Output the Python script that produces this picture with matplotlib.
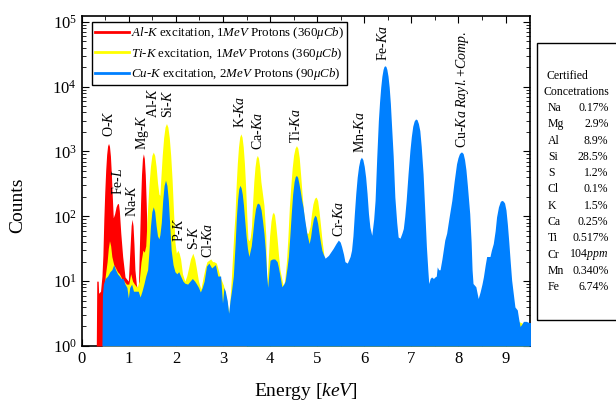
import matplotlib
matplotlib.use("Agg")
import matplotlib.pyplot as plt
from matplotlib.patches import Rectangle
from matplotlib.ticker import MultipleLocator, LogLocator, NullFormatter

plt.rcParams["font.family"] = ["Liberation Serif", "DejaVu Serif"]
plt.rcParams["mathtext.fontset"] = "custom"
plt.rcParams["mathtext.rm"] = "Liberation Serif"
plt.rcParams["mathtext.it"] = "Liberation Serif:italic"

# Al-K excitation, 1 MeV protons
al_e = [0.31, 0.32, 0.35, 0.36, 0.40, 0.43, 0.45, 0.47, 0.49, 0.51, 0.53, 0.55, 0.57, 0.59,
        0.61, 0.63, 0.65, 0.67, 0.70, 0.73, 0.755, 0.78, 0.80, 0.83, 0.87, 0.92, 0.99, 1.03,
        1.05, 1.07, 1.09, 1.11, 1.13, 1.16, 1.20, 1.23, 1.25, 1.27, 1.29, 1.31, 1.33, 1.35,
        1.37, 1.39, 1.41, 1.45, 1.60, 2.00, 2.50, 3.00, 3.50]
al_c = [1, 10, 10, 6.5, 7, 12, 25, 90, 240, 520, 900, 1220, 1330, 1200,
        850, 450, 200, 95, 110, 140, 155, 158, 120, 55, 24, 11.6, 10, 37,
        72, 90, 72, 37, 15, 9, 6.5, 45, 160, 440, 780, 920, 780, 440,
        160, 45, 12, 7, 6, 5, 4, 3, 1]

# Ti-K excitation, 1 MeV protons
ti_e = [0.44, 0.46, 0.50, 0.54, 0.565, 0.59, 0.615, 0.64, 0.68, 0.72, 0.76, 0.80, 0.85, 0.90,
        0.95, 1.00, 1.04, 1.08, 1.12, 1.18, 1.22, 1.26, 1.30, 1.33, 1.36, 1.40, 1.43, 1.46,
        1.49, 1.52, 1.55, 1.58, 1.61, 1.64, 1.66, 1.68, 1.71, 1.74, 1.77, 1.80, 1.83, 1.86,
        1.89, 1.92, 1.95, 1.98, 2.01, 2.04, 2.07, 2.10, 2.14, 2.19, 2.23, 2.27, 2.31, 2.36,
        2.40, 2.43, 2.48, 2.53, 2.58, 2.62, 2.66, 2.70, 2.74, 2.78, 2.81, 2.86, 2.90, 2.94,
        3.01, 3.08, 3.13, 3.18, 3.23, 3.255, 3.28, 3.305, 3.33, 3.355, 3.38, 3.405, 3.43, 3.455,
        3.48, 3.505, 3.53, 3.56, 3.58, 3.605, 3.63, 3.655, 3.68, 3.705, 3.73, 3.755, 3.78, 3.805,
        3.83, 3.87, 3.91, 3.93, 3.96, 3.99, 4.02, 4.045, 4.07, 4.095, 4.12, 4.15, 4.18, 4.21,
        4.26, 4.29, 4.32, 4.35, 4.38, 4.41, 4.44, 4.47, 4.50, 4.53, 4.56, 4.59, 4.62, 4.65,
        4.68, 4.71, 4.74, 4.78, 4.81, 4.85, 4.88, 4.91, 4.945, 4.98, 5.01, 5.04, 5.07, 5.10,
        5.13, 5.16, 5.20, 5.40, 6.00, 7.00, 8.00, 9.00, 9.50]
ti_c = [1, 5, 12, 20, 32, 42, 35, 24, 18, 16, 14, 13, 11, 10,
        9, 9, 13, 10, 9, 8, 10, 20, 30, 28, 35, 133, 316, 590,
        870, 980, 870, 590, 330, 220, 210, 380, 870, 1630, 2380, 2700, 2380, 1630,
        870, 363, 118, 40, 27, 30, 27, 22, 13, 10, 12, 16, 22, 27,
        22, 16.6, 10, 7.6, 11.6, 16, 20, 21, 22, 20, 20, 19, 15, 11.6,
        8.7, 5.1, 3.2, 12, 55, 105, 300, 665, 1180, 1670, 1870, 1670, 1180, 665,
        296, 105, 45, 42, 48, 70, 166, 344, 575, 785, 870, 785, 575, 344,
        250, 150, 50, 8, 21, 50, 85, 108, 116, 105, 75, 45, 25, 15,
        9.8, 8, 12, 21, 50, 140, 290, 560, 880, 1120, 1230, 1120, 800, 430,
        220, 120, 80, 55, 55, 70, 110, 155, 190, 198, 175, 120, 75, 45,
        30, 20, 12, 10, 8, 5, 4, 3, 2]

# Cu-K excitation, 2 MeV protons
cu_e = [0.40, 0.43, 0.44, 0.46, 0.50, 0.55, 0.60, 0.64, 0.68, 0.72, 0.76, 0.80, 0.84, 0.88,
        0.92, 0.96, 0.99, 1.02, 1.06, 1.10, 1.15, 1.20, 1.24, 1.28, 1.32, 1.36, 1.40, 1.43,
        1.46, 1.49, 1.52, 1.55, 1.58, 1.61, 1.64, 1.66, 1.69, 1.72, 1.75, 1.78, 1.81, 1.84,
        1.87, 1.90, 1.94, 1.98, 2.02, 2.06, 2.10, 2.15, 2.19, 2.25, 2.30, 2.35, 2.40, 2.44,
        2.48, 2.52, 2.56, 2.60, 2.65, 2.70, 2.76, 2.80, 2.84, 2.89, 2.95, 2.99, 3.02, 3.05,
        3.09, 3.12, 3.15, 3.18, 3.22, 3.26, 3.285, 3.31, 3.335, 3.36, 3.385, 3.41, 3.435, 3.46,
        3.49, 3.52, 3.55, 3.60, 3.63, 3.66, 3.69, 3.72, 3.75, 3.78, 3.81, 3.84, 3.87, 3.90,
        3.93, 3.95, 3.98, 4.00, 4.05, 4.10, 4.15, 4.18, 4.22, 4.25, 4.29, 4.32, 4.36, 4.39,
        4.42, 4.45, 4.48, 4.51, 4.535, 4.56, 4.585, 4.61, 4.64, 4.67, 4.70, 4.74, 4.78, 4.83,
        4.86, 4.89, 4.92, 4.95, 4.98, 5.01, 5.04, 5.07, 5.10, 5.13, 5.17, 5.24, 5.30, 5.34,
        5.40, 5.45, 5.49, 5.52, 5.56, 5.59, 5.64, 5.70, 5.73, 5.76, 5.79, 5.82, 5.85, 5.88,
        5.91, 5.94, 5.97, 6.00, 6.03, 6.06, 6.09, 6.12, 6.16, 6.20, 6.23, 6.265, 6.30, 6.325,
        6.35, 6.375, 6.40, 6.42, 6.44, 6.46, 6.48, 6.505, 6.53, 6.555, 6.58, 6.615, 6.65, 6.69,
        6.72, 6.76, 6.80, 6.83, 6.86, 6.89, 6.93, 6.97, 7.00, 7.03, 7.06, 7.09, 7.12, 7.15,
        7.18, 7.21, 7.25, 7.28, 7.32, 7.35, 7.37, 7.40, 7.43, 7.47, 7.50, 7.53, 7.55, 7.58,
        7.61, 7.65, 7.71, 7.75, 7.80, 7.86, 7.91, 7.96, 7.99, 8.02, 8.05, 8.07, 8.10, 8.13,
        8.16, 8.19, 8.24, 8.27, 8.29, 8.31, 8.37, 8.42, 8.46, 8.50, 8.53, 8.57, 8.60, 8.64,
        8.67, 8.70, 8.74, 8.78, 8.81, 8.85, 8.89, 8.92, 8.95, 8.98, 9.01, 9.04, 9.07, 9.10,
        9.13, 9.17, 9.20, 9.25, 9.28, 9.31, 9.35, 9.38, 9.44, 9.50, 9.53]
cu_c = [1, 1, 6, 9, 11, 12, 14, 15, 18, 15, 13, 12, 11, 11,
        9, 8, 5.5, 8, 9, 7, 7, 7, 5.7, 7, 9, 12, 15, 30,
        70, 118, 140, 118, 72, 50, 45, 52, 80, 176, 300, 360, 300, 176,
        72, 30, 18, 14, 13, 14, 12, 10, 9.3, 9, 10, 11, 10, 9,
        8, 6.8, 8, 10, 17, 19, 16, 17, 18, 12, 12, 4.6, 8, 7,
        5, 3.2, 5, 7, 12, 40, 97, 181, 265, 300, 275, 220, 150, 90,
        50, 32, 24, 35, 55, 90, 130, 155, 160, 150, 125, 85, 55, 30,
        12, 8, 15, 21, 22, 22, 20, 16, 11, 8.2, 9, 10, 16, 24,
        50, 110, 220, 340, 410, 427, 400, 330, 250, 180, 139, 85, 55, 38,
        48, 70, 92, 104, 98, 78, 55, 40, 30, 26, 22.6, 25, 29, 32,
        38, 43, 40, 34, 26, 20, 19, 24, 30, 50, 110, 225, 400, 590,
        750, 815, 750, 590, 400, 225, 110, 68, 51, 90, 176, 800, 3000, 5800,
        9800, 14500, 18500, 20500, 21000, 20500, 18500, 14500, 9800, 5500, 2500, 850, 198, 80,
        48, 46, 55, 65, 100, 176, 450, 1040, 1700, 2450, 2950, 3170, 3100, 2700,
        2100, 1200, 450, 150, 34, 15, 9.2, 11, 11.6, 11, 11.6, 12, 16.6, 15,
        15, 22, 43, 55, 95, 176, 350, 646, 800, 920, 975, 980, 930, 750,
        520, 300, 110, 40, 15, 9.2, 8.2, 5.4, 6.8, 9, 11.6, 18, 24, 24,
        24, 30, 38, 60, 98, 140, 170, 176, 172, 160, 125, 75, 40, 20,
        10.4, 6, 4, 3.6, 2.6, 2, 2.2, 2.4, 2.4, 2.3, 2.3]

peak_labels = ["O-$K$", "Fe-$L$", "Na-$K$", "Mg-$K$", "Al-$K$", "Si-$K$", "P-$K$", "S-$K$",
               "Cl-$Ka$", "K-$Ka$", "Ca-$Ka$", "Ti-$Ka$", "Cr-$Ka$", "Mn-$Ka$", "Fe-$Ka$",
               "Cu-$Ka$ $Rayl.$+$Comp.$"]
peak_e = [0.58, 0.77, 1.07, 1.29, 1.51, 1.83, 2.07, 2.38, 2.69, 3.36, 3.75, 4.55, 5.46,
          5.91, 6.40, 8.08]
peak_y = [1650, 210, 96, 1040, 3300, 3300, 40, 30, 23, 2340, 1040, 1330, 48, 960, 25000, 1150]

elements = ["Na", "Mg", "Al", "Si", "S", "Cl", "K", "Ca", "Ti", "Cr", "Mn", "Fe"]
conc = ["0.17%", "2.9%", "8.9%", "28.5%", "1.2%", "0.1%", "1.5%", "0.25%", "0.517%",
        "104$ppm$", "0.340%", "6.74%"]

W, H = 616, 403
fig = plt.figure(figsize=(W / 100, H / 100), dpi=100)
ax = fig.add_axes([81.7 / W, 1 - 346 / H, (530 - 81.7) / W, (346 - 16) / H])

ax.fill_between(al_e, al_c, 1, color="#ff0000", lw=0, zorder=3)
ax.fill_between(ti_e, ti_c, 1, color="#ffff00", lw=0, zorder=3)
ax.fill_between(cu_e, cu_c, 1, color="#0080ff", lw=0, zorder=3)

ax.set_yscale("log")
ax.set_xlim(0, 9.52)
ax.set_ylim(1, 1.23e5)
ax.xaxis.set_major_locator(MultipleLocator(1))
ax.xaxis.set_minor_locator(MultipleLocator(0.5))
ax.yaxis.set_major_locator(LogLocator(base=10, numticks=10))
ax.yaxis.set_minor_locator(LogLocator(base=10, subs=range(2, 10), numticks=20))
ax.yaxis.set_minor_formatter(NullFormatter())
ax.tick_params(which="both", direction="in", top=True, right=True, labelsize=12)
ax.tick_params(which="major", length=5, width=0.8)
ax.tick_params(which="minor", length=3, width=0.6)
for s in ax.spines.values():
    s.set_linewidth(1.2)

for lab, e, y in zip(peak_labels, peak_e, peak_y):
    ax.text(e, y, lab, rotation=90, ha="center", va="bottom", fontsize=10, zorder=4)

h1, = ax.plot([], [], color="#ff0000", lw=2)
h2, = ax.plot([], [], color="#ffff00", lw=2)
h3, = ax.plot([], [], color="#0080ff", lw=2)
leg = ax.legend([h1, h2, h3],
                ["$Al$-$K$ excitation, 1$MeV$ Protons (360$\\mu Cb$)",
                 "$Ti$-$K$ excitation, 1$MeV$ Protons (360$\\mu Cb$)",
                 "$Cu$-$K$ excitation, 2$MeV$ Protons (90$\\mu Cb$)"],
                loc="upper left", bbox_to_anchor=(0.023, 0.982), borderaxespad=0,
                fontsize=9.3, handlelength=2.6, handletextpad=0.15, labelspacing=0.35,
                borderpad=0.25, fancybox=False, framealpha=1, edgecolor="black")
leg.get_frame().set_linewidth(1.0)
leg.set_zorder(5)

fig.text(18 / W, 1 - 205 / H, "Counts", rotation=90, ha="center", va="center", fontsize=14)
fig.text(306 / W, 1 - 391 / H, "Energy [$keV$]", ha="center", va="center", fontsize=14)

fig.patches.append(Rectangle((537 / W, 1 - 320 / H), 0.2, (320 - 43) / H,
                             transform=fig.transFigure, fill=False, edgecolor="black", lw=1.0))
fig.text(567 / W, 1 - 76 / H, "Certified", ha="center", va="center", fontsize=8.5)
fig.text(576 / W, 1 - 92 / H, "Concetrations", ha="center", va="center", fontsize=8.5)
for i, (el, c) in enumerate(zip(elements, conc)):
    yy = 1 - (108 + i * 16.3) / H
    fig.text(548 / W, yy, el, ha="left", va="center", fontsize=8.5)
    fig.text(608.5 / W, yy, c, ha="right", va="center", fontsize=8.5)

fig.savefig("out.png", dpi=100)
